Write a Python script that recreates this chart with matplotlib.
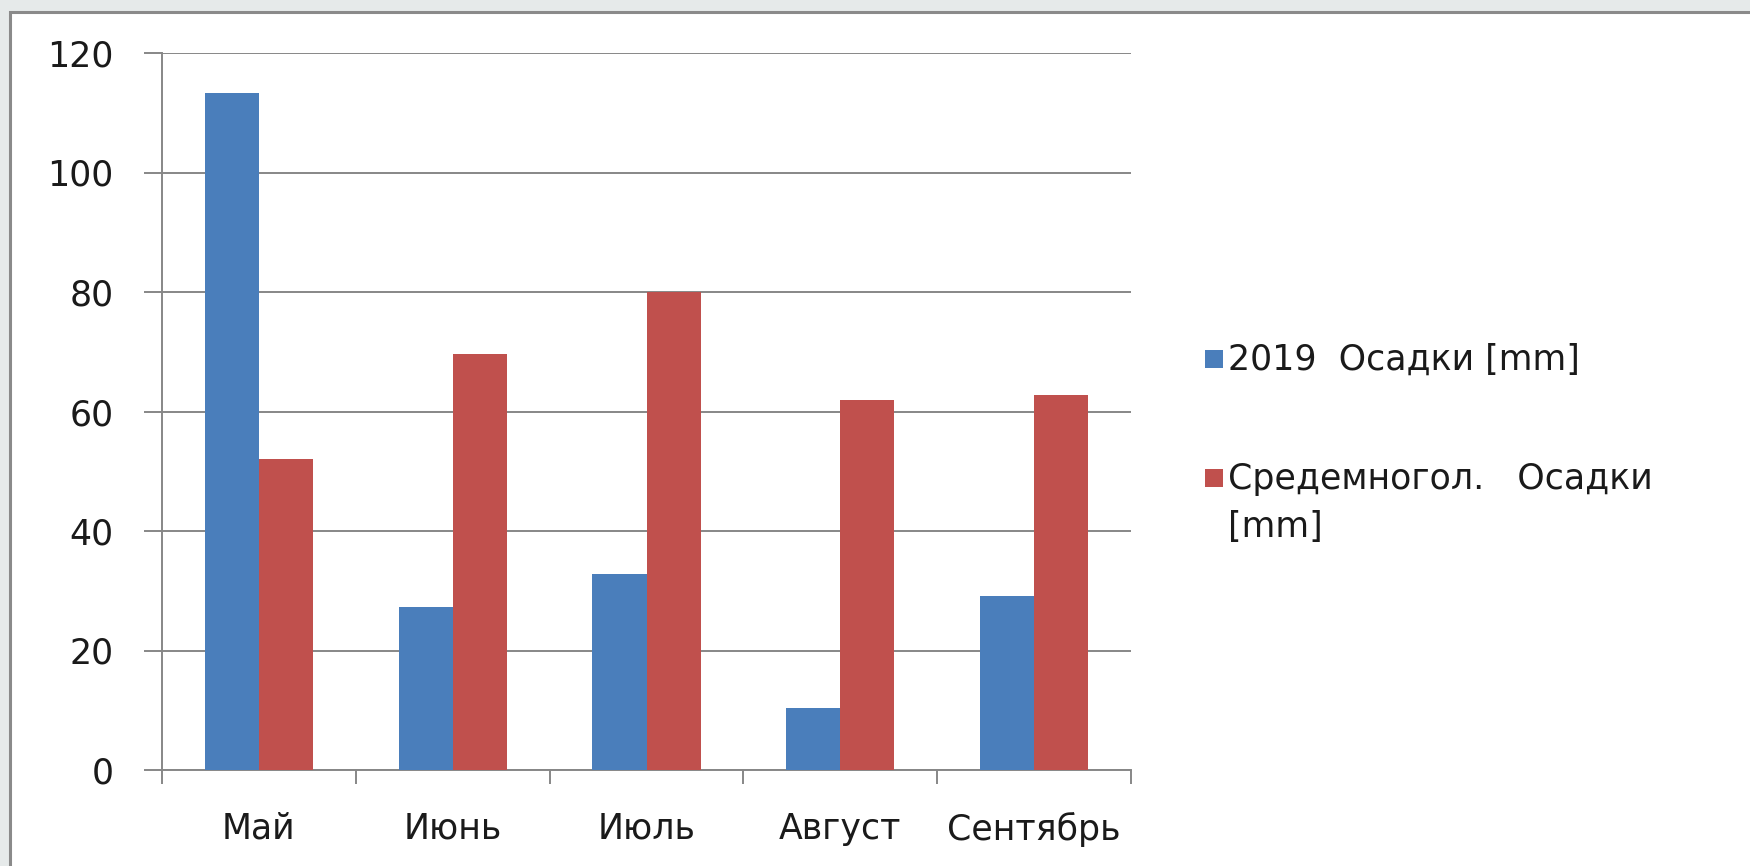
import matplotlib.pyplot as plt
import numpy as np
from matplotlib.patches import Rectangle

# monthly precipitation, mm
months = ['Май', 'Июнь', 'Июль', 'Август', 'Сентябрь']
rain_2019 = [113.3, 27.3, 32.8, 10.3, 29.2]
rain_avg = [52.0, 69.7, 80.0, 61.9, 62.8]
series_names = ['2019  Осадки [mm]', 'Средемногол.   Осадки\n[mm]']
yticks = [0, 20, 40, 60, 80, 100, 120]

BLUE = '#4a7ebb'
RED = '#c0504d'
GRID = '#878787'
TXT = '#1a1a1a'
FS = 25
W, H = 1750, 866

plt.rcParams['font.family'] = ['DejaVu Sans']

fig = plt.figure(figsize=(W / 100, H / 100), dpi=100, facecolor='#e6eaea')

# white panel with a grey frame on top/left
fig.patches.append(Rectangle((10 / W, -0.1), 1.2, 1 - 12 / H + 0.1, transform=fig.transFigure,
                             facecolor='white', edgecolor='#8a8a8a', linewidth=2.2, zorder=-5))

ax = fig.add_axes([162 / W, 1 - 770 / H, (1131 - 162) / W, (770 - 53) / H])
ax.set_facecolor('white')

x = np.arange(len(months))
bw = 0.279
ax.bar(x - bw / 2, rain_2019, width=bw, color=BLUE, zorder=3)
ax.bar(x + bw / 2, rain_avg, width=bw, color=RED, zorder=3)

ax.set_xlim(-0.5, len(months) - 0.5)
ax.set_ylim(0, 120)

ax.set_yticks(yticks)
ax.set_yticklabels([str(v) for v in yticks])
ax.yaxis.grid(True, color=GRID, linewidth=1.4, zorder=1)
ax.set_axisbelow(True)
ax.tick_params(axis='y', direction='out', length=13, width=1.4, color=GRID,
               pad=22, labelsize=FS, labelcolor=TXT)

# tick marks between categories, labels in the middle
ax.set_xticks(np.arange(-0.5, len(months), 1.0))
ax.set_xticklabels([])
ax.set_xticks(x, minor=True)
ax.set_xticklabels(months, minor=True)
ax.tick_params(axis='x', which='major', direction='out', length=10, width=1.4, color=GRID)
ax.tick_params(axis='x', which='minor', length=0, pad=30, labelsize=FS, labelcolor=TXT)

for s in ['top', 'right']:
    ax.spines[s].set_visible(False)
for s in ['left', 'bottom']:
    ax.spines[s].set_color(GRID)
    ax.spines[s].set_linewidth(1.4)

# legend on the right
for color, name, ypx in [(BLUE, series_names[0], 359), (RED, series_names[1], 478)]:
    fig.patches.append(Rectangle((1205 / W, 1 - (ypx + 9) / H), 18 / W, 18 / H,
                                 transform=fig.transFigure, facecolor=color, edgecolor='none'))
    fig.text(1228 / W, 1 - (ypx - 16) / H, name, fontsize=FS, color=TXT,
             va='top', ha='left', linespacing=1.5)

fig.savefig('out.png', dpi=100, facecolor=fig.get_facecolor())
